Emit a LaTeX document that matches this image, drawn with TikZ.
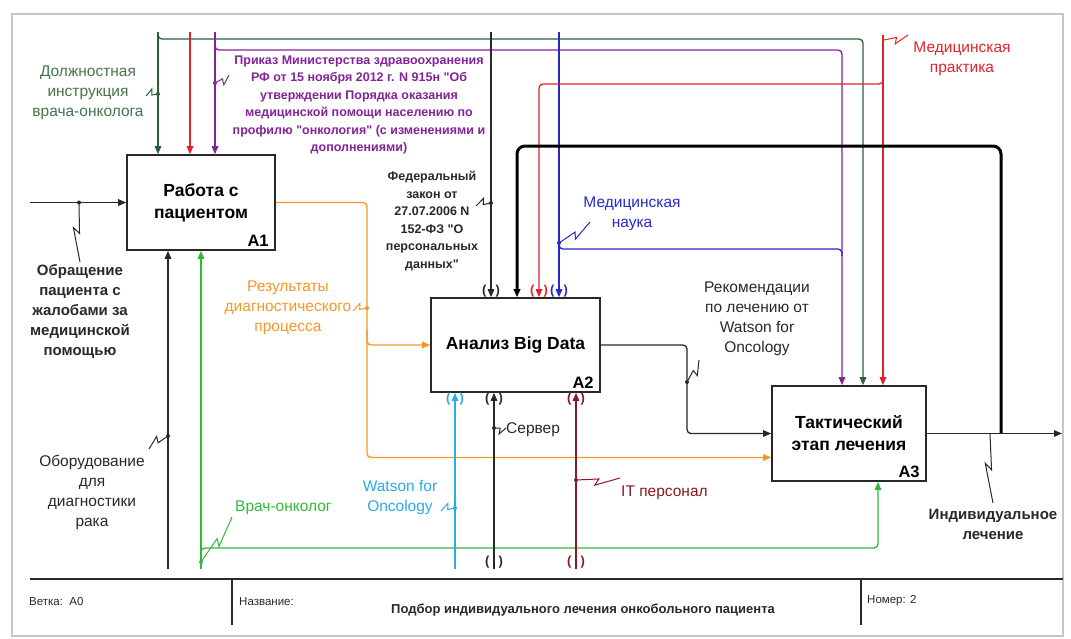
\documentclass[tikz,border=0pt]{standalone}
\usepackage{fontspec}
\setmainfont{Liberation Sans}
\usetikzlibrary{arrows.meta,calc}

\definecolor{dgreen}{RGB}{45,95,55}
\definecolor{dgreentext}{RGB}{70,115,75}
\definecolor{mred}{RGB}{225,35,45}
\definecolor{mpurple}{RGB}{130,35,150}
\definecolor{mblue}{RGB}{40,40,205}
\definecolor{morange}{RGB}{245,150,40}
\definecolor{mcyan}{RGB}{40,170,235}
\definecolor{mgreen}{RGB}{50,185,60}
\definecolor{mdarkred}{RGB}{135,25,35}
\definecolor{mgray}{RGB}{40,40,40}

%squiggle from a dot on an arrow to its label
\newcommand{\squig}[4][2pt]{%
	\draw[#2, line width=1pt] (#3) -- ($(#3)!.52!(#4)$) -- ($(#3)!.42!(#4)!6pt!-90:(#4)$) -- (#4);
	\fill[#2] (#3) circle (#1);}
\newcommand{\qq}{\textquotedbl}

\begin{document}
\begin{tikzpicture}[x=1pt, y=-1pt,
	line/.style={line width=1.3pt, rounded corners=4pt},
	arr/.style={line, -{Triangle[length=8pt,width=6.5pt]}},
	box/.style={draw=mgray, line width=1.6pt, align=center, inner sep=0pt,
		font=\bfseries\fontsize{17.5}{22}\selectfont},
	boxid/.style={anchor=south east, inner sep=0pt, font=\bfseries\fontsize{16.5}{17}\selectfont},
	lbl/.style={align=center, inner sep=0pt, font=\fontsize{15.5}{20}\selectfont},
	lblb/.style={align=center, inner sep=0pt, font=\bfseries\fontsize{15}{20}\selectfont},
	doc/.style={align=center, inner sep=0pt, font=\bfseries\fontsize{12.5}{17.5}\selectfont},
	tunnel/.style={inner sep=0pt, font=\bfseries\fontsize{13}{13}\selectfont},
	foot/.style={anchor=west, inner sep=0pt, text=mgray, font=\fontsize{11.5}{12}\selectfont}]
	\useasboundingbox (0,0) rectangle (1071,638);
	%frame
	\draw[gray!45, line width=1.5pt] (12,14) rectangle (1063,636);

	%boxes
	\node[box, minimum width=148pt, minimum height=95pt] (a1) at (201,202.5) {Работа с\\пациентом};
	\node[box, minimum width=169pt, minimum height=94pt] (a2) at (515.5,345) {Анализ Big Data};
	\node[box, minimum width=154pt, minimum height=95pt] (a3) at (849,433.5) {Тактический\\этап лечения};
	\node[boxid] (a1id) at ([xshift=-7pt,yshift=4pt]a1.south east) {A1};
	\node[boxid] (a2id) at ([xshift=-7pt,yshift=4pt]a2.south east) {A2};
	\node[boxid] (a3id) at ([xshift=-7pt,yshift=4pt]a3.south east) {A3};

	%free ends
	\coordinate (tg) at (158,32);
	\coordinate (tr) at (190,32);
	\coordinate (tp) at (215,32);
	\coordinate (tf) at (491,32);
	\coordinate (tb) at (559,32);
	\coordinate (tm) at (883,35);
	\coordinate (in) at (30,202.5);
	\coordinate (out) at (1062,433.5);
	\coordinate (fb) at (1001,433.5);
	\coordinate (be) at (168,569);
	\coordinate (bd) at (201,569);
	\coordinate (bw) at (455,569);
	\coordinate (bs) at (494,569);
	\coordinate (bi) at (576,569);

	%controls
	\draw[arr, dgreen] (tg) -- (tg |- a1.north);
	\draw[arr, dgreen] (tg) |- (863,39) -- (863,0 |- a3.north);
	\draw[arr, mred] (tr) -- (tr |- a1.north);
	\draw[arr, mpurple] (tp) -- (tp |- a1.north);
	\draw[arr, mpurple] (tp) |- (842,50) -- (842,0 |- a3.north);
	\draw[arr, mgray] (tf) -- (tf |- a2.north);
	\draw[arr, mblue] (tb) -- (tb |- a2.north);
	\draw[line, mblue] (559,236) |- (842,249) -- (842,256);
	\draw[arr, mred] (tm) -- (tm |- a3.north);
	\draw[arr, mred] (tm) |- (539,84) -- (539,0 |- a2.north);
	%feedback
	\draw[arr, black, line width=3pt, rounded corners=8pt] (fb) |- (517,146) -- (517,0 |- a2.north);

	%inputs and outputs
	\draw[arr, mgray] (in) -- (a1.west);
	\draw[arr, morange] (a1.east) -- (367,202.5) |- (a2.west);
	\draw[arr, morange] (367,330) |- ([yshift=-24pt]a3.west);
	\draw[arr, mgray] (a2.east) -- (687,345) |- (a3.west);
	\draw[arr, mgray] (a3.east) -- (out);

	%mechanisms
	\draw[arr, mgray] (be) -- (be |- a1.south);
	\draw[arr, mgreen] (bd) -- (bd |- a1.south);
	\draw[arr, mgreen] (201,562) |- (878,548) -- (878,0 |- a3.south);
	\draw[arr, mcyan] (bw) -- (bw |- a2.south);
	\draw[arr, mgray] (bs) -- (bs |- a2.south);
	\draw[arr, mdarkred] (bi) -- (bi |- a2.south);

	%tunnels
	\foreach \x/\y/\c [count=\i] in {491/291/mgray, 539/291/mred, 559/291/mblue,
			455/399/mcyan, 494/399/mgray, 576/399/mdarkred, 494/562/mgray, 576/562/mdarkred}
		\node[tunnel, text=\c] (tun\i) at (\x,\y) {(\hspace{9pt})};

	%labels
	\node[lbl, text=dgreentext] (lgreen) at (88,93) {Должностная\\инструкция\\врача-онколога};
	\node[doc, text=mpurple] (lprik) at (359,105) {Приказ Министерства здравоохранения\\РФ от 15 ноября 2012 г. N 915н \qq Об\\утверждении Порядка оказания\\медицинской помощи населению по\\профилю \qq онкология\qq{} (с изменениями и\\дополнениями)};
	\node[doc, text=mgray] (lfed) at (432,221) {Федеральный\\закон от\\27.07.2006 N\\152-ФЗ \qq О\\персональных\\данных\qq};
	\node[lbl, text=mblue] (lsci) at (632,214) {Медицинская\\наука};
	\node[lbl, text=mred] (lprac) at (962,59) {Медицинская\\практика};
	\node[lblb, text=mgray] (lin) at (80,311) {Обращение\\пациента с\\жалобами за\\медицинской\\помощью};
	\node[lbl, text=morange] (lres) at (288,308) {Результаты\\диагностического\\процесса};
	\node[lbl, text=mgray] (lrec) at (757,319) {Рекомендации\\по лечению от\\Watson for\\Oncology};
	\node[lblb, text=mgray] (lout) at (993,524) {Индивидуальное\\лечение};
	\node[lbl, text=mgray] (lequip) at (92,492) {Оборудование\\для\\диагностики\\рака};
	\node[lbl, text=mgreen, anchor=west] (ldoc) at (235,508) {Врач-онколог};
	\node[lbl, text=mcyan] (lwat) at (400,497) {Watson for\\Oncology};
	\node[lbl, text=mgray, anchor=west] (lsrv) at (506,430) {Сервер};
	\node[lbl, text=mdarkred, anchor=west] (lit) at (621,493) {IT персонал};

	%squiggles
	\squig{mgray}{79,202.5}{80,262}
	\squig{dgreen}{158,94}{146,96}
	\squig{mpurple}{215,83}{229,75}
	\squig{mgray}{491,203}{476,206}
	\squig{mblue}{559,243}{590,222}
	\squig[0pt]{mred}{884,40}{908,35}
	\squig{morange}{367,308}{353,311}
	\squig{mgray}{687,382}{699,360}
	\squig[0pt]{mgray}{990,434}{993,503}
	\squig{mgray}{168,436}{149,449}
	\squig{mgreen}{201,562}{232,517}
	\squig{mcyan}{455,508}{441,511}
	\squig{mgray}{494,428}{506,428}
	\squig{mdarkred}{576,480}{620,478}

	%footer
	\draw[mgray, line width=1.5pt] (30,579) -- (1063,579);
	\draw[mgray, line width=1.5pt] (232,579) -- (232,625) (861,579) -- (861,625);
	\node[foot] (fbranch) at (29,602) {Ветка:\ \ A0};
	\node[foot] (fname) at (239,602) {Название:};
	\node[foot, anchor=center, font=\bfseries\fontsize{13}{13}\selectfont] (ftitle) at (583,610) {Подбор индивидуального лечения онкобольного пациента};
	\node[foot] (fnum) at (867,601) {Номер: 2};
\end{tikzpicture}
\end{document}
